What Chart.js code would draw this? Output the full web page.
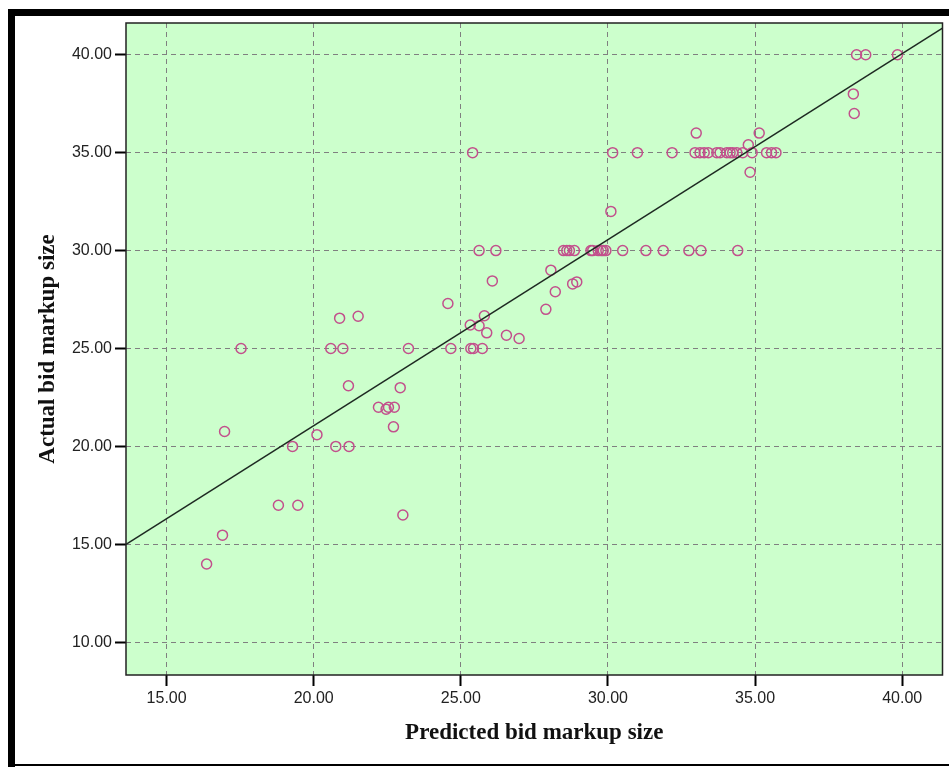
<!DOCTYPE html>
<html>
<head>
<meta charset="utf-8">
<script src="https://cdn.jsdelivr.net/npm/chart.js@4/dist/chart.umd.min.js"></script>
<style>
  html, body { margin: 0; padding: 0; background: #fff; }
  canvas { display: block; }
</style>
</head>
<body>
<canvas id="chart" width="949" height="767"></canvas>
<script>
// predicted (x) and actual (y) bid markup sizes
const predicted = [
    38.45, 38.76, 39.84, 38.34, 38.37, 33.0, 35.14, 34.77, 34.83,
    25.4, 30.16, 31.0, 32.18, 32.96, 33.13, 33.27, 33.41, 33.7, 33.81,
    34.04, 34.15, 34.24, 34.38, 34.58, 34.9, 35.39, 35.56, 35.71,
    30.1,
    25.62, 26.19, 28.49, 28.6, 28.69, 28.86, 29.42, 29.48, 29.67, 29.77,
    29.84, 29.93, 30.5, 31.29, 31.88, 32.75, 33.16, 34.41,
    28.06, 26.07, 28.8, 28.94, 28.21, 27.89, 24.56, 20.88, 21.51,
    25.32, 25.8, 25.62, 25.88, 26.55, 26.98,
    17.53, 20.58, 20.99, 23.22, 24.66, 25.34, 25.43, 25.73,
    21.18, 22.94, 22.2, 22.46, 22.54, 22.74, 22.71, 20.11, 20.75, 21.2,
    19.28, 16.97, 18.8, 19.46, 23.03, 16.9, 16.36
];
const actual = [
    40, 40, 40, 38, 37, 36, 36, 35.4, 34,
    35, 35, 35, 35, 35, 35, 35, 35, 35, 35,
    35, 35, 35, 35, 35, 35, 35, 35, 35,
    32,
    30, 30, 30, 30, 30, 30, 30, 30, 30, 30,
    30, 30, 30, 30, 30, 30, 30, 30,
    29, 28.45, 28.3, 28.4, 27.9, 27, 27.3, 26.55, 26.65,
    26.2, 26.67, 26.16, 25.8, 25.68, 25.51,
    25, 25, 25, 25, 25, 25, 25, 25,
    23.1, 23.0, 22.0, 21.9, 22.0, 22.0, 21.0, 20.6, 20, 20,
    20, 20.76, 17, 17, 16.5, 15.47, 14
];

// fit line end points (at the edges of the x range)
const fitX = [13.62, 41.37];
const fitY = [15.0, 41.36];

const xTicks = [15, 20, 25, 30, 35, 40];
const yTicks = [10, 15, 20, 25, 30, 35, 40];
const xRange = [13.62, 41.37];
const yRange = [8.33, 41.62];

const ctx = document.getElementById("chart").getContext("2d");

const framePlugin = {
    id: "frame",
    beforeDraw(chart) {
        const c = chart.ctx;
        const a = chart.chartArea;
        c.save();
        c.fillStyle = "#fff";
        c.fillRect(0, 0, chart.width, chart.height);
        c.fillStyle = "#000";
        c.fillRect(8, 9, chart.width - 8, 7);
        c.fillRect(8, 9, 7, chart.height - 9);
        c.fillRect(8, 764, chart.width - 8, 2);
        c.fillStyle = "#ccffcc";
        c.fillRect(a.left, a.top, a.right - a.left, a.bottom - a.top);
        c.restore();
    },
    afterDatasetsDraw(chart) {
        const c = chart.ctx;
        const a = chart.chartArea;
        c.save();
        c.strokeStyle = "#222";
        c.lineWidth = 1.5;
        c.strokeRect(a.left, a.top, a.right - a.left, a.bottom - a.top);
        c.restore();
    }
};

const tickFont = { family: "'Liberation Sans', Arial, sans-serif", size: 16 };
const titleFont = { family: "'Liberation Serif', 'Times New Roman', serif", size: 23, weight: "bold" };

new Chart(ctx, {
    type: "scatter",
    data: {
        datasets: [
            {
                type: "line",
                label: "fit",
                data: fitX.map((x, i) => ({ x: x, y: fitY[i] })),
                borderColor: "#1e2a22",
                borderWidth: 1.5,
                pointRadius: 0,
                fill: false,
                order: 0
            },
            {
                label: "bids",
                data: predicted.map((x, i) => ({ x: x, y: actual[i] })),
                pointStyle: "circle",
                pointRadius: 5,
                pointBorderWidth: 1.5,
                backgroundColor: "rgba(0,0,0,0)",
                borderColor: "#c2508c",
                order: 1
            }
        ]
    },
    options: {
        responsive: false,
        devicePixelRatio: 1,
        animation: false,
        layout: { padding: { left: 0, top: 23, right: 6, bottom: 0 } },
        plugins: {
            legend: { display: false },
            tooltip: { enabled: false }
        },
        scales: {
            x: {
                type: "linear",
                min: xRange[0],
                max: xRange[1],
                afterBuildTicks: s => { s.ticks = xTicks.map(v => ({ value: v })); },
                afterFit: s => { s.height = 92; },
                ticks: {
                    callback: v => v.toFixed(2),
                    font: tickFont,
                    color: "#222",
                    padding: 3,
                    maxRotation: 0
                },
                grid: {
                    color: "#808080",
                    lineWidth: 1,
                    tickColor: "#000",
                    tickWidth: 2,
                    tickLength: 11,
                    tickBorderDash: []
                },
                border: { display: false, dash: [5, 4] },
                title: {
                    display: true,
                    text: "Predicted bid markup size",
                    font: titleFont,
                    color: "#111",
                    padding: { top: 0, bottom: 20 }
                }
            },
            y: {
                type: "linear",
                min: yRange[0],
                max: yRange[1],
                afterBuildTicks: s => { s.ticks = yTicks.map(v => ({ value: v })); },
                afterFit: s => { s.width = 126; },
                ticks: {
                    callback: v => v.toFixed(2),
                    font: tickFont,
                    color: "#222",
                    padding: 3
                },
                grid: {
                    color: "#808080",
                    lineWidth: 1,
                    tickColor: "#000",
                    tickWidth: 2,
                    tickLength: 11,
                    tickBorderDash: []
                },
                border: { display: false, dash: [5, 4] },
                title: {
                    display: true,
                    text: "Actual bid markup size",
                    font: titleFont,
                    color: "#111",
                    padding: { top: 34, bottom: 0 }
                }
            }
        }
    },
    plugins: [framePlugin]
});
</script>
</body>
</html>
